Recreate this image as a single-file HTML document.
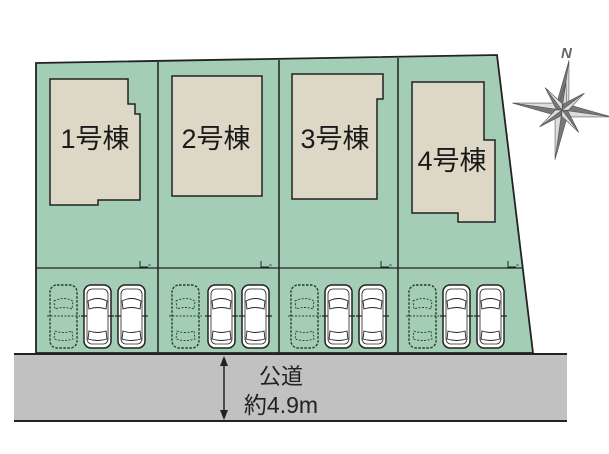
<!DOCTYPE html>
<html><head><meta charset="utf-8"><style>
html,body{margin:0;padding:0;background:#fff;}
svg{display:block;}
text{font-family:"Liberation Sans","Noto Sans CJK JP",sans-serif;}
</style></head><body>
<svg width="609" height="454" viewBox="0 0 609 454" xmlns="http://www.w3.org/2000/svg">
<defs>
<g id="car">
<rect x="0" y="0" width="27" height="63" rx="7" fill="#fff" stroke="#222" stroke-width="1.5"/>
<rect x="3" y="4" width="21" height="55" rx="5" fill="none" stroke="#222" stroke-width="0.8"/>
<path d="M4 16 Q13.5 11 23 16 L22 24 Q13.5 21 5 24 Z" fill="none" stroke="#222" stroke-width="0.9"/>
<path d="M5 46 Q13.5 49 22 46 L23 54 Q13.5 57 4 54 Z" fill="none" stroke="#222" stroke-width="0.9"/>
<line x1="-3" y1="31" x2="3" y2="31" stroke="#222" stroke-width="1.2"/>
<line x1="24" y1="31" x2="30" y2="31" stroke="#222" stroke-width="1.2"/>
</g>
<g id="dcar">
<rect x="0" y="0" width="27" height="63" rx="7" fill="none" stroke="#2a3a30" stroke-width="1.4" stroke-dasharray="2.5,1.5"/>
<path d="M4 16 Q13.5 11 23 16 L22 24 Q13.5 21 5 24 Z" fill="none" stroke="#2a3a30" stroke-width="0.9" stroke-dasharray="2,1.5"/>
<path d="M5 46 Q13.5 49 22 46 L23 54 Q13.5 57 4 54 Z" fill="none" stroke="#2a3a30" stroke-width="0.9" stroke-dasharray="2,1.5"/>
<line x1="-3" y1="31" x2="30" y2="31" stroke="#2a3a30" stroke-width="1" stroke-dasharray="2,1.5"/>
</g>
<g id="mk"><path d="M0 -6 V0 H8" fill="none" stroke="#222" stroke-width="1"/><text x="8" y="0" font-size="5" fill="#222">×</text></g>
</defs>

<rect x="14" y="354" width="553" height="67" fill="#c1c1c1"/>
<line x1="14" y1="354" x2="567" y2="354" stroke="#222" stroke-width="2"/>
<line x1="14" y1="421" x2="567" y2="421" stroke="#222" stroke-width="2"/>

<polygon points="36,63 497,55 533,353 36,353" fill="#a4cdb6" stroke="#222" stroke-width="1.8"/>
<line x1="158" y1="62" x2="158" y2="353" stroke="#222" stroke-width="1.5"/>
<line x1="279" y1="60" x2="279" y2="353" stroke="#222" stroke-width="1.5"/>
<line x1="398" y1="58" x2="398" y2="353" stroke="#222" stroke-width="1.5"/>
<line x1="36" y1="268" x2="523" y2="268" stroke="#222" stroke-width="1.2"/>
<use href="#mk" x="140" y="267"/><use href="#mk" x="261" y="267"/><use href="#mk" x="381" y="267"/><use href="#mk" x="508" y="267"/>

<g fill="#ddd7c6" stroke="#222" stroke-width="1.5">
<polygon points="50,79 128,79 128,104 135,104 135,114 140,114 140,200 98,200 98,205 50,205"/>
<rect x="172" y="76" width="90" height="120"/>
<polygon points="292,74 383,74 383,99 377,99 377,199 292,199"/>
<polygon points="412,82 484,82 484,140 495,140 495,222 458,222 458,213 412,213"/>
</g>
<g font-size="27" fill="#1a1a1a" text-anchor="middle">
<text x="95" y="148">1号棟</text>
<text x="216" y="148">2号棟</text>
<text x="335" y="148">3号棟</text>
<text x="452" y="170">4号棟</text>
</g>

<use href="#dcar" x="50" y="285"/><use href="#car" x="84" y="285"/><use href="#car" x="118" y="285"/>
<use href="#dcar" x="172" y="285"/><use href="#car" x="208" y="285"/><use href="#car" x="242" y="285"/>
<use href="#dcar" x="291" y="285"/><use href="#car" x="325" y="285"/><use href="#car" x="359" y="285"/>
<use href="#dcar" x="409" y="285"/><use href="#car" x="443" y="285"/><use href="#car" x="477" y="285"/>

<line x1="224" y1="362" x2="224" y2="413" stroke="#222" stroke-width="1.5"/>
<polygon points="224,356 220,366 228,366" fill="#222"/>
<polygon points="224,420 220,410 228,410" fill="#222"/>
<text x="281" y="384" font-size="22" fill="#222" text-anchor="middle">公道</text>
<text x="281" y="413" font-size="23" fill="#222" text-anchor="middle">約4.9m</text>

<g transform="translate(562,110) rotate(8)">
<g fill="#666" stroke="#555" stroke-width="0.6">
<g id="arm"><polygon points="0,0 0,-50 -6,-7" fill="#777"/><polygon points="0,0 0,-50 6,-7" fill="#ddd"/></g>
<use href="#arm" transform="rotate(90)"/><use href="#arm" transform="rotate(180)"/><use href="#arm" transform="rotate(270)"/>
<g id="sarm"><polygon points="0,0 0,-28 -4,-5" fill="#777"/><polygon points="0,0 0,-28 4,-5" fill="#ddd"/></g>
<use href="#sarm" transform="rotate(45)"/><use href="#sarm" transform="rotate(135)"/><use href="#sarm" transform="rotate(225)"/><use href="#sarm" transform="rotate(315)"/>
</g>
</g>
<text x="561" y="58" font-size="15" font-weight="bold" font-style="italic" fill="#666">N</text>
</svg>
</body></html>
